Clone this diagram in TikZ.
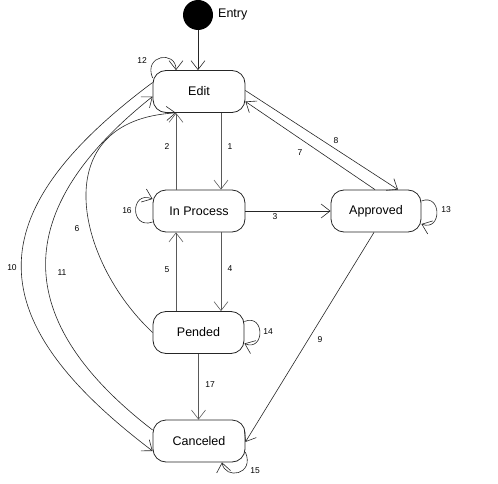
\documentclass[tikz,border=0pt]{standalone}
\usepackage{fontspec}
\setmainfont{Liberation Sans}
\usetikzlibrary{arrows.meta}
\begin{document}
\begin{tikzpicture}[x=1pt,y=-1pt,
  state/.style={draw=black!85, line width=0.8pt, rounded corners=13pt, minimum width=92pt, minimum height=42pt, inner sep=0pt, font=\fontsize{12.5}{14}\selectfont},
  arr/.style={-{Straight Barb[length=9pt,width=14pt,line width=0.6pt]}, line width=0.6pt, draw=black!85},
  vline/.style={arr, draw=black!65, line width=1pt},
  lbl/.style={font=\fontsize{8.5}{10}\selectfont, inner sep=0pt},
]
\useasboundingbox (0,0) rectangle (498,484);

% nodes
\node[circle, fill=black, minimum size=30pt, inner sep=0pt] (entry) at (198,15) {};
\node[anchor=west, inner sep=0pt, font=\fontsize{12.5}{14}\selectfont] (entrylbl) at (218,14) {Entry};
\node[state] (edit) at (199,91.5) {Edit};
\node[state] (inproc) at (199,211) {In Process};
\node[state, minimum width=90pt] (approved) at (376,211) {Approved};
\node[state, minimum width=91pt] (pended) at (198.5,332.5) {Pended};
\node[state] (canceled) at (199,441) {Canceled};

% straight edges
\draw[arr] (entry.south) -- (entry.south |- edit.north);
\draw[vline] ([xshift=22pt]edit.south) -- ([xshift=22pt]edit.south |- inproc.north);
\draw[vline] ([xshift=-23pt]inproc.north) -- ([xshift=-23pt]inproc.north |- edit.south);
\draw[arr] (inproc.east) -- (approved.west);
\draw[vline] ([xshift=22pt]inproc.south) -- ([xshift=22pt]inproc.south |- pended.north);
\draw[vline] ([xshift=-23pt]inproc.south |- pended.north) -- ([xshift=-23pt]inproc.south);
\draw[arr] ([xshift=-1pt]approved.north) -- ([yshift=-10pt]edit.east);
\draw[arr] ([yshift=1pt]edit.east) -- ([xshift=22pt]approved.north);
\draw[arr] ([xshift=-2pt]approved.south) -- ([yshift=-1pt]canceled.east);
\draw[vline] (pended.south) -- (pended.south |- canceled.north);

% curved edges
\draw[arr] (pended.west) .. controls (75,260) and (45,120) .. ([xshift=-23pt]edit.south);
\draw[arr] ([yshift=9pt]edit.west) .. controls (-25,215) and (-20,320) .. ([yshift=-10pt]canceled.west);
\draw[arr] ([yshift=11pt]canceled.west) .. controls (10,320) and (10,210) .. ([yshift=-5pt]edit.west);

% self loops
\draw[arr] ([yshift=13.5pt]edit.west) .. controls (143,55) and (176,50) .. ([xshift=-23pt]edit.north);
\draw[arr] ([yshift=-11pt]inproc.west) .. controls (130,230) and (130,190) .. ([yshift=12pt]inproc.west);
\draw[arr] ([yshift=10pt]approved.east) .. controls (442,193) and (442,232) .. ([yshift=-13pt]approved.east);
\draw[arr] ([yshift=11pt]pended.east) .. controls (265,313) and (265,352) .. ([yshift=-11pt]pended.east);
\draw[arr] ([yshift=-11pt]canceled.east) .. controls (255,475) and (225,480) .. ([xshift=23pt]canceled.south);

% labels
\node[lbl] (l1) at (230,147) {1};
\node[lbl] (l2) at (167,147) {2};
\node[lbl] (l3) at (275,217) {3};
\node[lbl] (l4) at (230,269) {4};
\node[lbl] (l5) at (167,270) {5};
\node[lbl] (l6) at (77,229) {6};
\node[lbl] (l7) at (300,153) {7};
\node[lbl] (l8) at (336,141) {8};
\node[lbl] (l9) at (320,340) {9};
\node[lbl] (l10) at (12,268) {10};
\node[lbl] (l11) at (62,273) {11};
\node[lbl] (l12) at (142,61) {12};
\node[lbl] (l13) at (446,210) {13};
\node[lbl] (l14) at (268,332) {14};
\node[lbl] (l15) at (255,471) {15};
\node[lbl] (l16) at (127,211) {16};
\node[lbl] (l17) at (210,385) {17};
\end{tikzpicture}
\end{document}
